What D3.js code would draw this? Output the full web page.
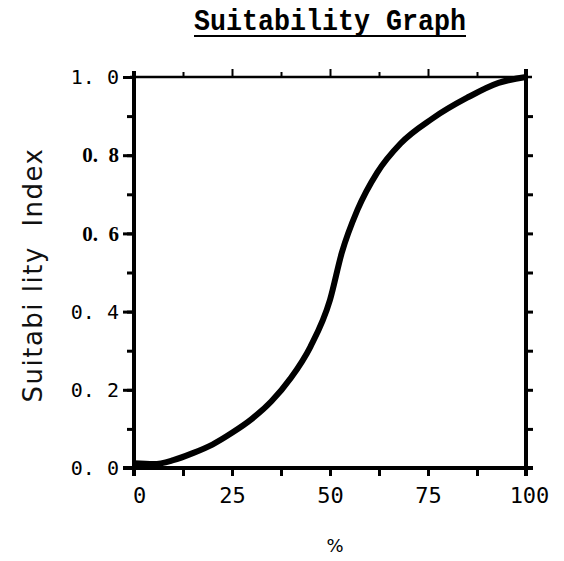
<!DOCTYPE html>
<html>
<head>
<meta charset="utf-8">
<script src="https://cdn.jsdelivr.net/npm/d3@7"></script>
<style>
  body { margin: 0; background: #fff; }
  svg { display: block; }
  .tick text { font-family: "DejaVu Sans Mono", monospace; font-size: 20px; fill: #000; }
</style>
</head>
<body>
<div id="chart"></div>
<script>
// Values
var pctX = [0, 5, 10, 15, 20, 25, 30, 35, 40, 45, 50, 53, 57, 62, 68, 76, 85, 93, 100];
var suitY = [0.012, 0.01, 0.02, 0.038, 0.06, 0.09, 0.125, 0.17, 0.23, 0.31, 0.43, 0.55, 0.66, 0.755, 0.83, 0.893, 0.947, 0.985, 1.0];
var xTickLabels = [0, 25, 50, 75, 100];
var yTickLabels = [0, 0.2, 0.4, 0.6, 0.8, 1.0];
var boldLabels = [0.6, 0.8];

var width = 564, height = 561;
var margin = { top: 77, right: 38, bottom: 93, left: 134 };
var w = width - margin.left - margin.right;
var h = height - margin.top - margin.bottom;

var svg = d3.select("#chart").append("svg")
    .attr("width", width)
    .attr("height", height);

var g = svg.append("g")
    .attr("transform", `translate(${margin.left},${margin.top})`);

var x = d3.scaleLinear().domain([0, 100]).range([0, w]);
var y = d3.scaleLinear().domain([0, 1]).range([h, 0]);

// minor ticks every 12.5 / 0.1
var xMinor = d3.range(0, 101, 12.5);
var yMinor = d3.range(0, 11).map(d => d / 10);

// left axis: labelled majors + minor ticks
g.append("g")
    .call(d3.axisLeft(y).tickValues(yMinor.filter(d => d > 0 && d < 1)).tickSize(7).tickFormat(""))
    .call(a => a.select(".domain").remove())
    .selectAll("line").attr("stroke-width", 3);

var yAxis = g.append("g")
    .call(d3.axisLeft(y).tickValues(yTickLabels).tickSize(11).tickPadding(4)
        .tickFormat(d => d3.format(".1f")(d).replace(".", ". ")));
yAxis.select(".domain").remove();
yAxis.selectAll("line").attr("stroke-width", 3);
yAxis.selectAll("text")
    .filter(d => boldLabels.indexOf(d) >= 0)
    .style("font-family", "'Liberation Serif', serif")
    .style("font-weight", "bold")
    .style("font-size", "21px")
    .style("white-space", "pre")
    .text(d => d3.format(".1f")(d).replace(".", ".  "));

// right axis
g.append("g")
    .attr("transform", `translate(${w},0)`)
    .call(d3.axisRight(y).tickValues(yMinor.filter(d => d > 0 && d < 1)).tickSize(7).tickFormat(""))
    .call(a => a.select(".domain").remove())
    .selectAll("line").attr("stroke-width", 3);

// top axis
g.append("g")
    .call(d3.axisTop(x).tickValues(xMinor.filter(d => d > 0 && d < 100)).tickSizeInner(0).tickFormat(""))
    .call(a => a.select(".domain").remove())
    .selectAll("line")
    .attr("y2", d => d % 25 === 0 ? -8 : -5)
    .attr("stroke-width", 2);

// bottom axis
g.append("g")
    .attr("transform", `translate(0,${h})`)
    .call(d3.axisBottom(x).tickValues(xMinor.filter(d => d > 0 && d < 100)).tickSize(8).tickFormat(""))
    .call(a => a.select(".domain").remove())
    .selectAll("line").attr("stroke-width", 3);

var xAxis = g.append("g")
    .attr("transform", `translate(0,${h})`)
    .call(d3.axisBottom(x).tickValues(xTickLabels).tickSize(0).tickPadding(19));
xAxis.select(".domain").remove();
xAxis.selectAll("text")
    .style("font-size", "22px")
    .attr("dx", d => d === 0 ? 5 : (d === 100 ? 3 : 0));

// frame lines
g.append("line").attr("x1", -11).attr("x2", w + 7).attr("y1", h).attr("y2", h)
    .attr("stroke", "#000").attr("stroke-width", 4);
g.append("line").attr("x1", -4).attr("x2", w + 6).attr("y1", 0).attr("y2", 0)
    .attr("stroke", "#000").attr("stroke-width", 2.5);
g.append("line").attr("x1", 0).attr("x2", 0).attr("y1", -6).attr("y2", h + 8)
    .attr("stroke", "#000").attr("stroke-width", 4);
g.append("line").attr("x1", w).attr("x2", w).attr("y1", -8).attr("y2", h + 8)
    .attr("stroke", "#000").attr("stroke-width", 4);

// curve
var line = d3.line()
    .x((d, i) => x(d))
    .y((d, i) => y(suitY[i]))
    .curve(d3.curveMonotoneX);

g.append("path")
    .datum(pctX)
    .attr("d", line)
    .attr("fill", "none")
    .attr("stroke", "#000")
    .attr("stroke-width", 6);

// title
svg.append("text")
    .attr("x", margin.left + w / 2)
    .attr("y", 30)
    .attr("text-anchor", "middle")
    .attr("textLength", 272)
    .attr("lengthAdjust", "spacingAndGlyphs")
    .style("font-family", "'Liberation Mono', monospace")
    .style("font-weight", "bold")
    .style("font-size", "29px")
    .text("Suitability Graph");
svg.append("line")
    .attr("x1", 194).attr("x2", 466).attr("y1", 36).attr("y2", 36)
    .attr("stroke", "#000").attr("stroke-width", 2);

// y label
svg.append("text")
    .attr("transform", "translate(42,275) rotate(-90)")
    .attr("text-anchor", "middle")
    .style("font-family", "'DejaVu Sans', sans-serif")
    .style("font-size", "26px")
    .style("letter-spacing", "1.5px")
    .style("white-space", "pre")
    .style("fill", "#111")
    .text("Suitabi lity  Index");

// x label
svg.append("text")
    .attr("x", 335)
    .attr("y", 552)
    .attr("text-anchor", "middle")
    .style("font-family", "'DejaVu Sans', sans-serif")
    .style("font-size", "18px")
    .text("%");
</script>
</body>
</html>
